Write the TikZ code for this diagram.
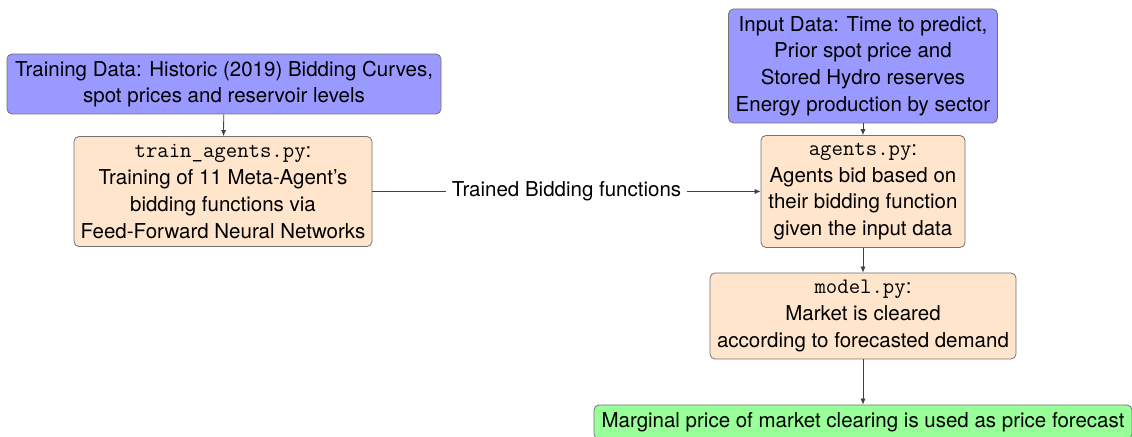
\documentclass[tikz,border=0pt]{standalone}
\usepackage{fontspec}
\setmainfont{TeX Gyre Heros}
\setmonofont[Scale=1.08]{Latin Modern Mono}
\usetikzlibrary{arrows.meta}

\begin{document}
\begin{tikzpicture}[x=0.5pt, y=-0.5pt,
	box/.style={draw=black!55, rounded corners=2.5pt, align=center, inner sep=0pt,
		font=\fontsize{10.25}{13.35}\selectfont},
	databox/.style={box, fill=blue!40},
	scriptbox/.style={box, fill=orange!20},
	resultbox/.style={box, fill=green!40},
	arr/.style={-{Latex[length=3pt,width=2.6pt]}, draw=black!75, line width=0.4pt}]
	\def\colx{863}
	\useasboundingbox (0,0) rectangle (1132,437);

	% training side
	\node[databox, minimum width=217pt, minimum height=30pt] (traindata) at (224,84)
		{Training Data: Historic (2019) Bidding Curves,\\ spot prices and reservoir levels};
	\node[scriptbox, minimum width=149pt, minimum height=55pt] (trainagents) at (223,191.5)
		{\texttt{train\_agents.py}:\\ Training of 11 Meta-Agent's\\ bidding functions via\\ Feed-Forward Neural Networks};

	% forecasting side
	\node[databox, minimum width=134.5pt, minimum height=57pt] (inputdata) at (\colx,66)
		{Input Data: Time to predict,\\ Prior spot price and\\ Stored Hydro reserves\\ Energy production by sector};
	\node[scriptbox, minimum width=102pt, minimum height=56pt] (agents) at (\colx,191.5)
		{\texttt{agents.py}:\\ Agents bid based on\\ their bidding function\\ given the input data};
	\node[scriptbox, minimum width=153pt, minimum height=43pt] (model) at (\colx,316)
		{\texttt{model.py}:\\ Market is cleared\\ according to forecasted demand};
	\node[resultbox, minimum width=269pt, minimum height=17pt] (forecast) at (\colx,422)
		{Marginal price of market clearing is used as price forecast};

	% connectors
	\draw[arr] (traindata) -- (trainagents);
	\draw[arr] (trainagents) -- node[fill=white, inner sep=3pt, font=\fontsize{10.25}{13.35}\selectfont]
		{Trained Bidding functions} (agents);
	\draw[arr] (inputdata) -- (agents);
	\draw[arr] (agents) -- (model);
	\draw[arr] (model) -- (forecast);
\end{tikzpicture}
\end{document}
